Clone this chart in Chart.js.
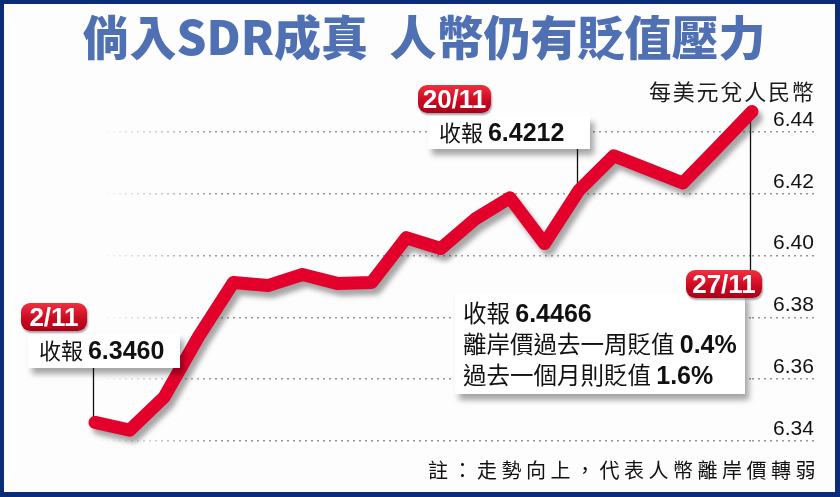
<!DOCTYPE html>
<html>
<head>
<meta charset="utf-8">
<script src="https://cdn.jsdelivr.net/npm/chart.js@4"></script>
<style>
  body { margin: 0; background: #fff; }
  #wrap { position: relative; width: 840px; height: 497px; background: #fdfdfd; overflow: hidden; }
  #frame { position: absolute; left: 0; top: 0; width: 840px; height: 497px; box-sizing: border-box;
    border: 5px solid #0c2b78; border-left-width: 4px; border-top-width: 4px; pointer-events: none; }
  .cjk { font-family: "Noto Sans CJK TC", "Noto Sans", sans-serif; }
  #title { position: absolute; left: 0; width: 848px; top: 7px; text-align: center; color: #5070b4;
    font-size: 47px; font-weight: 900; line-height: 56px; white-space: pre; }
  #unit { position: absolute; left: 649px; top: 74px; font-size: 22px; color: #1a1a1a; letter-spacing: 1.8px; }
  .pill { position: absolute; height: 28px; border-radius: 9px; color: #fff; text-align: center;
    background: linear-gradient(#f0303f, #cc0a22 55%, #a80018); box-shadow: 1px 2px 2px rgba(0,0,0,.35);
    font: bold 26px/28px "Liberation Sans Narrow", "Liberation Sans", sans-serif; }
  .box { position: absolute; background: #fff; box-shadow: 4px 6px 6px rgba(0,0,0,.35); color: #111; }
  .box .l { font-size: 22px; line-height: 31px; white-space: nowrap; }
  .box.big .l { font-size: 23.5px; line-height: 31px; }
  .box b { font: bold 25px "Liberation Sans", Arial, sans-serif; }
  #note { position: absolute; left: 428px; top: 455px; font-size: 20px; color: #111; letter-spacing: 4.5px; }
</style>
</head>
<body>
<div id="wrap">
  <canvas id="rmbChart"></canvas>
  <div id="title" class="cjk">倘入SDR成真  人幣仍有貶值壓力</div>
  <div id="unit" class="cjk">每美元兌人民幣</div>

  <div class="box cjk" style="left:28px;top:334px;width:152px;height:34px;padding-left:11px;box-sizing:border-box">
    <div class="l">收報 <b>6.3460</b></div></div>
  <div class="pill" style="left:21px;top:303px;width:66px">2/11</div>

  <div class="box cjk" style="left:428px;top:116px;width:162px;height:33px;padding-left:11px;box-sizing:border-box">
    <div class="l">收報 <b>6.4212</b></div></div>
  <div class="pill" style="left:418px;top:85px;width:73px">20/11</div>

  <div class="box big cjk" style="left:455px;top:293px;width:290px;height:101px;padding:4px 0 0 8px;box-sizing:border-box">
    <div class="l">收報 <b>6.4466</b></div>
    <div class="l">離岸價過去一周貶值 <b>0.4%</b></div>
    <div class="l">過去一個月則貶值 <b>1.6%</b></div></div>
  <div class="pill" style="left:686px;top:270px;width:76px">27/11</div>

  <div id="note" class="cjk">註：走勢向上，代表人幣離岸價轉弱</div>
  <div id="frame"></div>
</div>
<script>
// trading days, Nov 2015
const dates = ["2/11", "3/11", "4/11", "5/11", "6/11", "9/11", "10/11", "11/11", "12/11", "13/11",
  "16/11", "17/11", "18/11", "19/11", "20/11", "23/11", "24/11", "25/11", "26/11", "27/11"];
// offshore yuan per US dollar
const usdCnh = [6.3460, 6.3435, 6.3542, 6.3739, 6.3913, 6.3903, 6.3939, 6.3910, 6.3913, 6.4058,
  6.4023, 6.4119, 6.4187, 6.4039, 6.4212, 6.4323, 6.4279, 6.4235, 6.4350, 6.4466];
const yTicks = [6.34, 6.36, 6.38, 6.40, 6.42, 6.44];

// annotated points and where their leader line ends
const calloutIdx = [0, 14, 19];
const calloutEndY = [368, 148, 272];

const cv = document.getElementById("rmbChart");
cv.width = 840;
cv.height = 497;
cv.style.position = "absolute";
cv.style.left = "0";
cv.style.top = "0";

const lineShadow = {
  id: "lineShadow",
  beforeDatasetsDraw(chart) {
    // leader lines from callouts
    const ctx = chart.ctx;
    const meta = chart.getDatasetMeta(0);
    ctx.save();
    ctx.strokeStyle = "#111";
    ctx.lineWidth = 1.3;
    calloutIdx.forEach((i, k) => {
      const p = meta.data[i];
      const x = Math.round(p.x) - 1.5;
      ctx.beginPath();
      ctx.moveTo(x, p.y);
      ctx.lineTo(x, calloutEndY[k]);
      ctx.stroke();
    });
    ctx.restore();
  },
  beforeDatasetDraw(chart) {
    const ctx = chart.ctx;
    ctx.save();
    ctx.shadowColor = "rgba(60,60,60,0.45)";
    ctx.shadowOffsetX = 4;
    ctx.shadowOffsetY = 6;
    ctx.shadowBlur = 5;
  },
  afterDatasetDraw(chart) {
    chart.ctx.restore();
  }
};

function gridColor(c) {
  const area = c.chart.chartArea;
  if (!area) return "#aaa";
  const g = c.chart.ctx.createLinearGradient(area.left, 0, area.left + 120, 0);
  g.addColorStop(0, "rgba(150,150,150,0)");
  g.addColorStop(1, "rgba(150,150,150,1)");
  return g;
}

new Chart(cv, {
  type: "line",
  data: {
    labels: dates,
    datasets: [
      {
        label: "USD/CNH",
        data: usdCnh,
        borderColor: "#e3002b",
        borderWidth: 13,
        borderCapStyle: "round",
        borderJoinStyle: "round",
        pointRadius: 0,
        tension: 0,
        clip: false,
      },
    ],
  },
  options: {
    responsive: false,
    animation: false,
    events: [],
    layout: { padding: { left: 95, right: 23, top: 132, bottom: 56 } },
    plugins: {
      legend: { display: false },
      tooltip: { enabled: false },
    },
    scales: {
      x: { display: false },
      y: {
        position: "right",
        min: yTicks[0],
        max: yTicks[yTicks.length - 1],
        afterBuildTicks: (s) => { s.ticks = yTicks.map((v) => ({ value: v })); },
        afterFit: (s) => { s.width = 65; },
        border: { display: false, dash: [2, 4] },
        grid: {
          color: gridColor,
          lineWidth: 1.5,
          drawTicks: true,
          tickLength: 65,
          tickBorderDash: [2, 4],
          tickColor: "rgba(150,150,150,1)",
        },
        ticks: {
          crossAlign: "near",
          padding: -44,
          labelOffset: -12,
          color: "#111",
          font: { family: "Liberation Sans", size: 21 },
          callback: (v) => Number(v).toFixed(2),
        },
      },
    },
  },
  plugins: [lineShadow],
});
</script>
</body>
</html>
